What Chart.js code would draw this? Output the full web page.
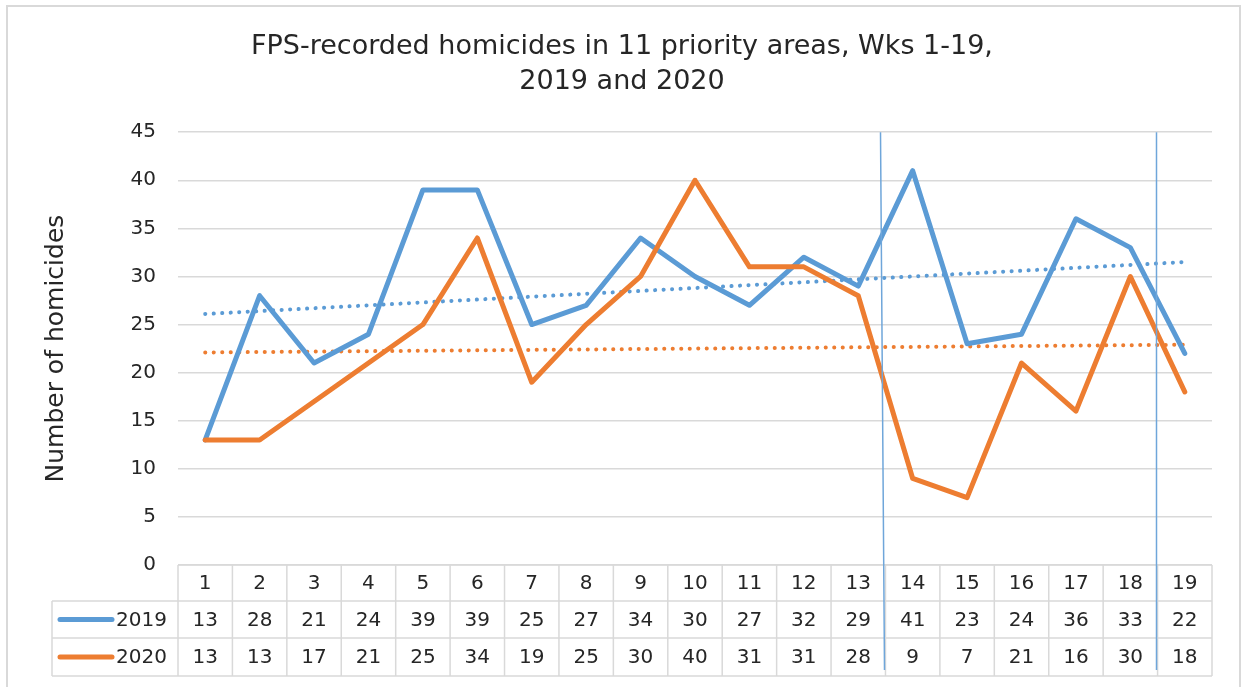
<!DOCTYPE html>
<html>
<head>
<meta charset="utf-8">
<script src="https://cdn.jsdelivr.net/npm/chart.js@4/dist/chart.umd.min.js"></script>
<style>
	body { margin: 0; background: #fff; }
	canvas { display: block; }
</style>
</head>
<body>
<canvas id="homicide-chart" width="1244" height="687"></canvas>
<script>
// Weeks and recorded homicides
var weeks = ['1','2','3','4','5','6','7','8','9','10','11','12','13','14','15','16','17','18','19'];
var homicides2019 = [13, 28, 21, 24, 39, 39, 25, 27, 34, 30, 27, 32, 29, 41, 23, 24, 36, 33, 22];
var homicides2020 = [13, 13, 17, 21, 25, 34, 19, 25, 30, 40, 31, 31, 28, 9, 7, 21, 16, 30, 18];

// Linear trendline end points (week 1 and week 19)
var trend2019 = [26.1, 31.5];
var trend2020 = [22.1, 22.9];

var yTicks = [0, 5, 10, 15, 20, 25, 30, 35, 40, 45];

var blue = '#5B9BD5';
var orange = '#ED7D31';
var gridColor = '#D9D9D9';
var textColor = '#262626';
var fontFamily = '"DejaVu Sans", sans-serif';

// put the two end values at the first and last week, the rest is left empty
var trendData = function(ends) {
	var out = [];
	for (var i = 0; i < weeks.length; i++) out.push(null);
	out[0] = ends[0];
	out[weeks.length - 1] = ends[1];
	return out;
};

// Frame round the whole chart
var framePlugin = {
	id: 'frame',
	beforeDraw: function(chart) {
		var ctx = chart.ctx;
		ctx.save();
		ctx.fillStyle = '#fff';
		ctx.fillRect(0, 0, chart.width, chart.height);
		ctx.strokeStyle = '#D9D9D9';
		ctx.lineWidth = 2;
		ctx.strokeRect(7, 6, 1233, 700);
		ctx.restore();
	}
};

// Data table under the plot, with the legend keys in the first column
var tablePlugin = {
	id: 'dataTable',
	afterDraw: function(chart) {
		var ctx = chart.ctx;
		var x = chart.scales.x;
		var area = chart.chartArea;
		var colW = (area.right - area.left) / weeks.length;
		var rows = [area.bottom, 601, 638, 676];
		var leftEdge = 52;

		ctx.save();
		ctx.strokeStyle = gridColor;
		ctx.lineWidth = 1.5;

		// horizontal lines
		ctx.beginPath();
		ctx.moveTo(area.left, rows[0]); ctx.lineTo(area.right, rows[0]);
		for (var r = 1; r < rows.length; r++) {
			ctx.moveTo(leftEdge, rows[r]); ctx.lineTo(area.right, rows[r]);
		}
		// vertical lines
		for (var c = 0; c <= weeks.length; c++) {
			var cx = area.left + c * colW;
			ctx.moveTo(cx, rows[0]); ctx.lineTo(cx, rows[3]);
		}
		ctx.moveTo(leftEdge, rows[1]); ctx.lineTo(leftEdge, rows[3]);
		ctx.stroke();

		ctx.fillStyle = textColor;
		ctx.font = '20px ' + fontFamily;
		ctx.textAlign = 'center';
		ctx.textBaseline = 'middle';
		var series = [weeks, homicides2019, homicides2020];
		for (var s = 0; s < series.length; s++) {
			var cy = (rows[s] + rows[s + 1]) / 2 + 1;
			for (var i = 0; i < weeks.length; i++) {
				ctx.fillText(String(series[s][i]), x.getPixelForValue(i), cy);
			}
		}

		// legend keys
		var keys = [['2019', blue], ['2020', orange]];
		for (var k = 0; k < keys.length; k++) {
			var ky = (rows[k + 1] + rows[k + 2]) / 2;
			ctx.strokeStyle = keys[k][1];
			ctx.lineWidth = 5;
			ctx.lineCap = 'round';
			ctx.beginPath();
			ctx.moveTo(60, ky); ctx.lineTo(112, ky);
			ctx.stroke();
			ctx.textAlign = 'left';
			ctx.fillText(keys[k][0], 116, ky + 1);
		}
		ctx.restore();
	}
};

// Two thin hand drawn marker lines across plot and table
var markerPlugin = {
	id: 'markers',
	afterDraw: function(chart) {
		var ctx = chart.ctx;
		var x = chart.scales.x;
		var area = chart.chartArea;
		var markers = [[12.4, 12.47], [17.48, 17.48]];
		ctx.save();
		ctx.strokeStyle = '#6FA6DA';
		ctx.lineWidth = 1.5;
		ctx.beginPath();
		for (var m = 0; m < markers.length; m++) {
			ctx.moveTo(Math.round(x.getPixelForValue(markers[m][0])) + 0.5, area.top);
			ctx.lineTo(Math.round(x.getPixelForValue(markers[m][1])) + 0.5, 670);
		}
		ctx.stroke();
		ctx.restore();
	}
};

var ctx = document.getElementById('homicide-chart').getContext('2d');
var chart = new Chart(ctx, {
	type: 'line',
	data: {
		labels: weeks,
		datasets: [
			{ label: '2019', data: homicides2019, borderColor: blue, borderWidth: 5, pointRadius: 0, borderJoinStyle: 'round', borderCapStyle: 'round', order: 2 },
			{ label: '2020', data: homicides2020, borderColor: orange, borderWidth: 5, pointRadius: 0, borderJoinStyle: 'round', borderCapStyle: 'round', order: 1 },
			{ label: 'Linear (2019)', data: trendData(trend2019), spanGaps: true, borderColor: blue, borderWidth: 4, borderDash: [0.1, 8.4], borderCapStyle: 'round', pointRadius: 0, order: 3 },
			{ label: 'Linear (2020)', data: trendData(trend2020), spanGaps: true, borderColor: orange, borderWidth: 4, borderDash: [0.1, 8.4], borderCapStyle: 'round', pointRadius: 0, order: 4 }
		]
	},
	options: {
		responsive: false,
		animation: false,
		devicePixelRatio: 1,
		// left padding mirrors the right one so the title is centred on the canvas
		layout: { padding: { top: 6, right: 32, bottom: 122, left: 32 } },
		plugins: {
			legend: { display: false },
			tooltip: { enabled: false },
			title: {
				display: true,
				text: ['FPS-recorded homicides in 11 priority areas, Wks 1-19,', '2019 and 2020'],
				color: textColor,
				font: { family: fontFamily, size: 27, weight: 'normal', lineHeight: 1.3 },
				padding: { top: 23, bottom: 33 }
			}
		},
		scales: {
			x: {
				display: false,
				offset: true
			},
			y: {
				min: 0,
				max: 45,
				afterFit: function(scale) { scale.width = 146; },
				afterBuildTicks: function(scale) {
					scale.ticks = yTicks.map(function(v) { return { value: v }; });
				},
				grid: { color: gridColor, lineWidth: 1.5, drawTicks: false },
				border: { display: false },
				ticks: { color: textColor, padding: 22, font: { family: fontFamily, size: 20 } },
				title: {
					display: true,
					text: 'Number of homicides',
					color: textColor,
					font: { family: fontFamily, size: 25 },
					padding: { top: 9, bottom: 0 }
				}
			}
		}
	},
	plugins: [framePlugin, tablePlugin, markerPlugin]
});
</script>
</body>
</html>
